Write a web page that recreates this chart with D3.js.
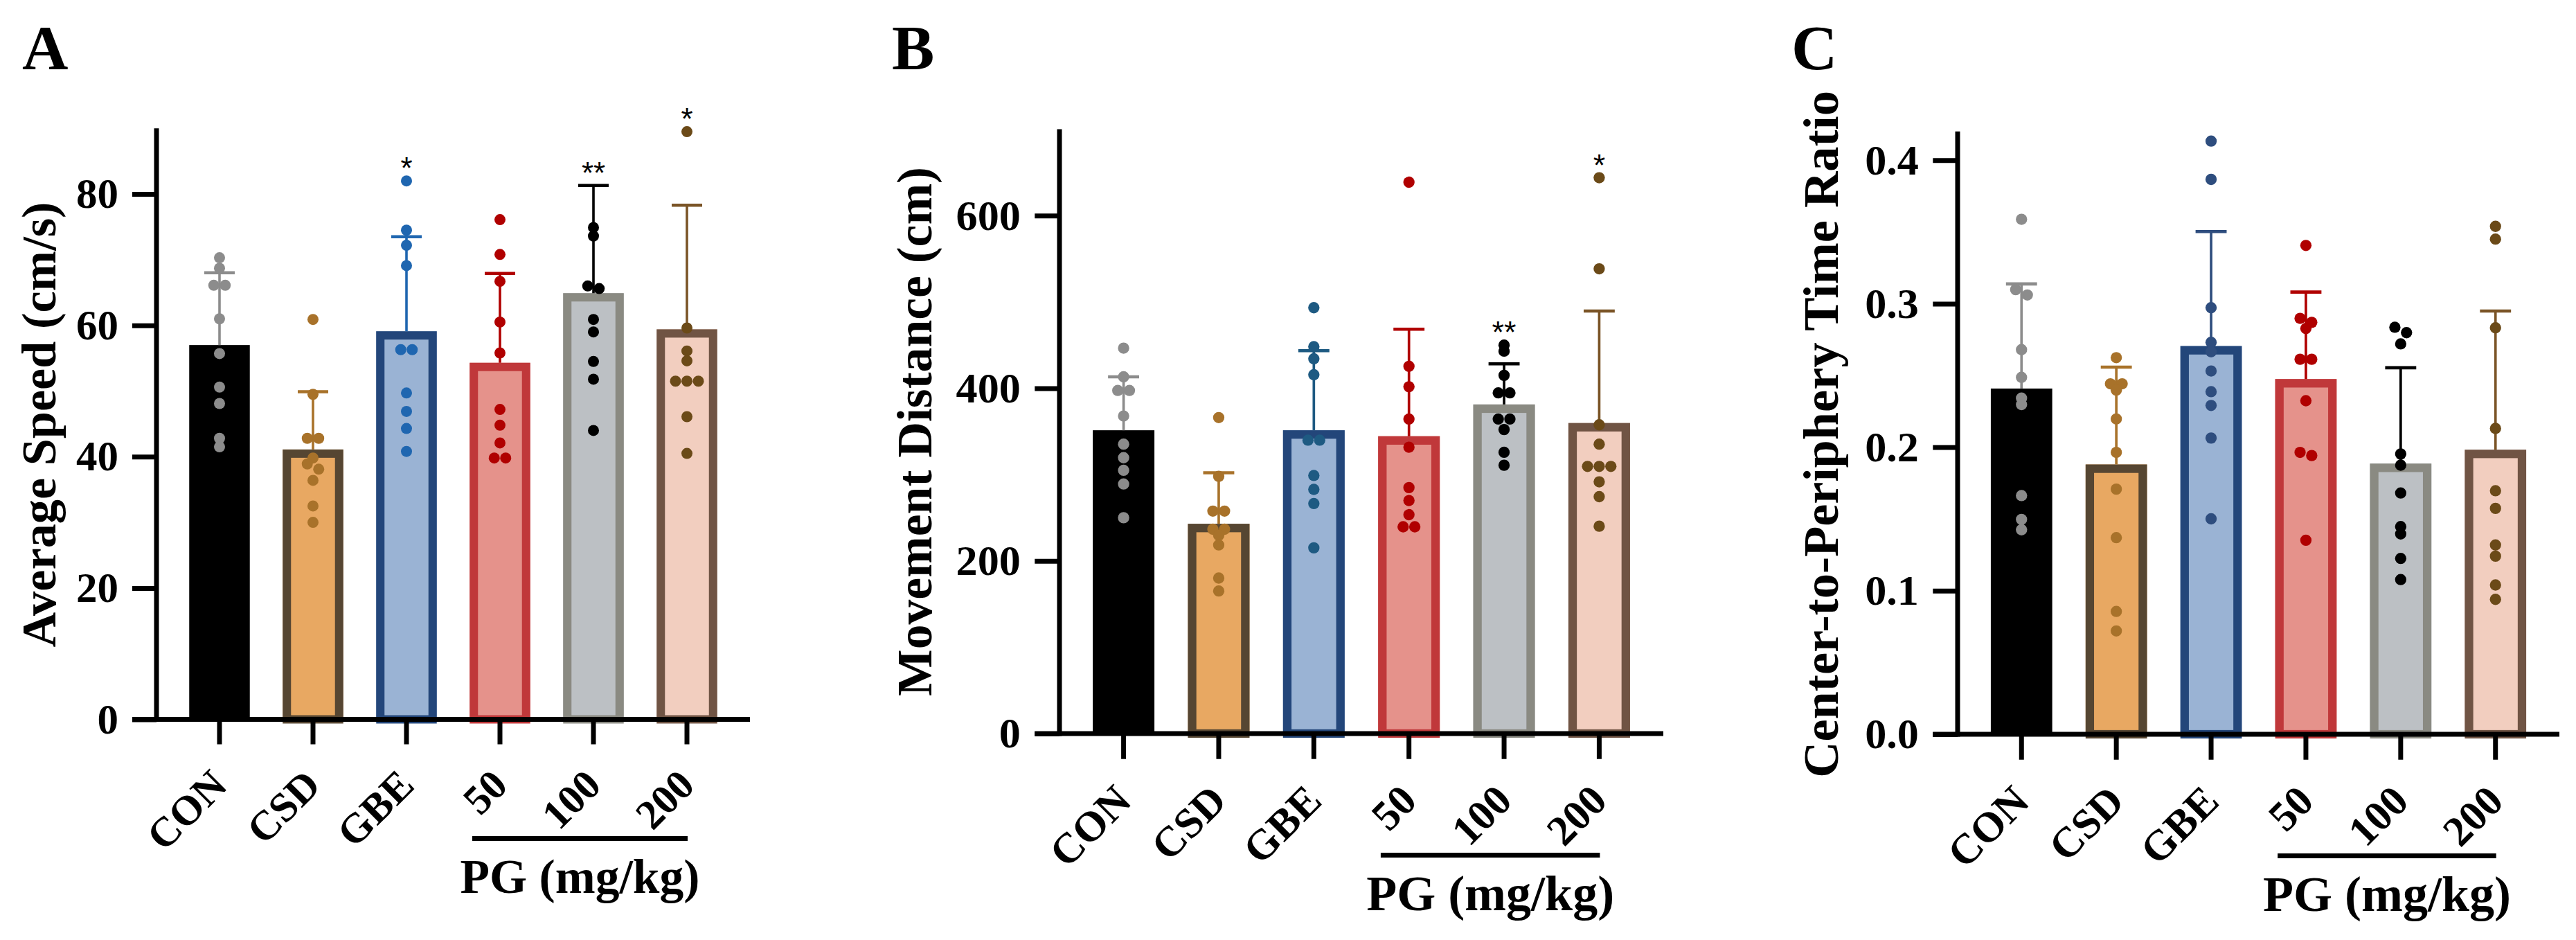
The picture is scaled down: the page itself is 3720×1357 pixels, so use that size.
<!DOCTYPE html>
<html><head><meta charset="utf-8">
<script src="https://cdn.jsdelivr.net/npm/d3@7"></script>
<style>
body{margin:0;background:#fff}
svg{display:block}
text{font-family:"Liberation Serif","Times New Roman",serif;font-weight:bold;fill:#000}
</style>
</head><body>
<svg id="chart" width="3720" height="1357"></svg>
<script>
// ---------------- DATA ----------------
const categories = ["CON", "CSD", "GBE", "50", "100", "200"];

// Panel A: Average Speed (cm/s)
const speedPoints = [
  [70.3, 68.7, 66.1, 66.1, 61.0, 55.7, 50.6, 48.1, 42.8, 41.5],
  [60.9, 49.5, 42.8, 42.8, 39.8, 38.9, 38.1, 36.4, 32.5, 30.0],
  [82.0, 74.5, 72.2, 69.1, 56.3, 56.3, 49.7, 46.9, 44.3, 40.8],
  [76.1, 70.8, 66.7, 60.5, 55.8, 47.2, 44.8, 42.1, 39.8, 39.8],
  [74.9, 73.6, 66.0, 65.6, 60.9, 59.0, 54.5, 51.8, 44.0],
  [89.5, 59.6, 56.1, 54.6, 51.5, 51.5, 51.5, 46.1, 40.5]
];
const speedMeans = [57.0, 41.1, 59.1, 54.3, 64.9, 59.4];
const speedSD = [11.0, 8.8, 14.4, 13.6, 16.4, 18.9];
const speedStars = ["", "", "*", "", "**", "*"];
const speedTicks = [0, 20, 40, 60, 80];

// Panel B: Movement Distance (cm)
const distPoints = [
  [446.4, 413.2, 397.4, 397.4, 367.8, 335.2, 319.5, 304.9, 289.1, 250.0],
  [366.0, 297.9, 257.7, 257.7, 236.7, 236.7, 229.7, 218.5, 180.1, 165.1],
  [493.2, 448.1, 434.1, 415.6, 339.8, 339.8, 298.9, 282.8, 266.4, 215.1],
  [638.6, 425.4, 401.7, 364.3, 331.7, 284.9, 269.9, 253.5, 239.5, 239.5],
  [449.9, 442.9, 414.9, 394.6, 394.6, 364.3, 364.3, 352.1, 325.8, 310.8],
  [643.8, 538.3, 357.6, 335.2, 309.4, 309.4, 309.4, 291.6, 274.4, 240.2]
];
const distMeans = [351.3, 243.0, 351.3, 344.4, 381.2, 359.7];
const distSD = [61.9, 59.1, 92.2, 124.0, 47.0, 129.7];
const distStars = ["", "", "", "", "**", "*"];
const distTicks = [0, 200, 400, 600];

// Panel C: Center-to-Periphery Time Ratio
const ratioPoints = [
  [0.3588, 0.3098, 0.3061, 0.2680, 0.2487, 0.2342, 0.2297, 0.1663, 0.1497, 0.1425],
  [0.2624, 0.2442, 0.2442, 0.2398, 0.2197, 0.1964, 0.1708, 0.1370, 0.0856, 0.0720],
  [0.4133, 0.3866, 0.2972, 0.2731, 0.2665, 0.2531, 0.2387, 0.2291, 0.2064, 0.1501],
  [0.3406, 0.2898, 0.2870, 0.2827, 0.2613, 0.2613, 0.2324, 0.1964, 0.1942, 0.1352],
  [0.2836, 0.2798, 0.2720, 0.1953, 0.1875, 0.1681, 0.1447, 0.1396, 0.1225, 0.1078],
  [0.3539, 0.3450, 0.2832, 0.2131, 0.1697, 0.1574, 0.1319, 0.1241, 0.1040, 0.0940]
];
const ratioMeans = [0.2409, 0.1880, 0.2705, 0.2475, 0.1886, 0.1983];
const ratioSD = [0.0729, 0.0678, 0.0798, 0.0606, 0.0668, 0.0966];
const ratioStars = ["", "", "", "", "", ""];
const ratioTicks = [0, 0.1, 0.2, 0.3, 0.4];

// Colours
const barFill   = ["#000000", "#e8a862", "#9ab3d4", "#e5928b", "#bcc0c4", "#f2cebf"];
const barStroke = [null,      "#564632", "#23467a", "#c0383a", "#8a8a82", "#705444"];
const dotColorA = ["#8c8c8c", "#a8722a", "#1f66b0", "#b00000", "#000000", "#6b4a18"];
const dotColorB = ["#8c8c8c", "#a8722a", "#1e5a82", "#b00000", "#000000", "#6b4a18"];
const dotColorC = ["#8c8c8c", "#a8722a", "#2e4d7e", "#b00000", "#000000", "#6b4a18"];
const errColorA = ["#8c8c8c", "#a8722a", "#1f66b0", "#b00000", "#000000", "#7a5426"];
const errColorB = ["#8c8c8c", "#a8722a", "#1e5a82", "#b00000", "#000000", "#7a5426"];
const errColorC = ["#8c8c8c", "#a8722a", "#2e4d7e", "#b00000", "#000000", "#7a5426"];

// ---------------- LAYOUT ----------------
const panels = [
  {letter: "A", letterX: 32, title: "Average Speed (cm/s)", titleX: 63, titleY: 613, titleLen: 643,
   points: speedPoints, means: speedMeans, sd: speedSD, stars: speedStars, ticks: speedTicks,
   fmt: d3.format("d"), ymax: 90, axisX: 226, xEnd: 1083, zeroY: 1038.5, top: 185.3, k: 1.0,
   dots: dotColorA, errs: errColorA, titleSize: 70, pgLen: 346},
  {letter: "B", letterX: 1288, title: "Movement Distance (cm)", titleX: 1328, titleY: 623, titleLen: 764,
   points: distPoints, means: distMeans, sd: distSD, stars: distStars, ticks: distTicks,
   fmt: d3.format("d"), ymax: 700, axisX: 1530, xEnd: 2402, zeroY: 1059, top: 186.5, k: 1.02,
   dots: dotColorB, errs: errColorB, titleSize: 72, pgLen: 358},
  {letter: "C", letterX: 2587, title: "Center-to-Periphery Time Ratio", titleX: 2637, titleY: 627, titleLen: 992,
   points: ratioPoints, means: ratioMeans, sd: ratioSD, stars: ratioStars, ticks: ratioTicks,
   fmt: d3.format(".1f"), ymax: 0.42, axisX: 2827, xEnd: 3696, zeroY: 1060, top: 189.8, k: 1.02,
   dots: dotColorC, errs: errColorC, titleSize: 72, pgLen: 358}
];

const svg = d3.select("#chart");
svg.append("rect").attr("width", 3720).attr("height", 1357).attr("fill", "#fff");

// scale a text's font so its rendered length matches the reference length
function fitText(sel, baseSize, target) {
  sel.style("font-size", baseSize + "px");
  const n = sel.node();
  let len = 0;
  try { len = n.getComputedTextLength(); } catch (e) { len = 0; }
  if (len > 0) {
    const s = baseSize * target / len;
    if (s > baseSize * 0.8 && s < baseSize * 1.35) sel.style("font-size", s + "px");
  }
}

panels.forEach(p => drawPanel(p));

function drawPanel(p) {
  const k = p.k;
  const g = svg.append("g");
  const x = d3.scaleBand().domain(categories).range([p.axisX, p.xEnd])
    .paddingInner(0.352).paddingOuter(0.35);
  const y = d3.scaleLinear().domain([0, p.ymax]).range([p.zeroY, p.top]);
  const bw = x.bandwidth();
  const sw = 12 * k;      // bar border
  const axW = 7;          // axis line width
  const tickLen = 35 * k;
  const r = 8 * k;

  // bars
  categories.forEach((c, i) => {
    const x0 = x(c), yt = y(p.means[i]), h = p.zeroY - yt;
    g.append("rect").attr("x", x0).attr("y", yt).attr("width", bw).attr("height", h)
      .attr("fill", barFill[i]);
    if (barStroke[i]) {
      g.append("rect").attr("x", x0 + sw / 2).attr("y", yt + sw / 2)
        .attr("width", bw - sw).attr("height", h - sw / 2)
        .attr("fill", "none").attr("stroke", barStroke[i]).attr("stroke-width", sw);
    }
  });

  // error bars (mean + SD)
  const capW = 44 * k;
  categories.forEach((c, i) => {
    const cx = x(c) + bw / 2;
    const yTop = y(p.means[i] + p.sd[i]);
    g.append("line").attr("x1", cx).attr("x2", cx).attr("y1", y(p.means[i])).attr("y2", yTop)
      .attr("stroke", p.errs[i]).attr("stroke-width", 3.6 * k);
    g.append("line").attr("x1", cx - capW / 2).attr("x2", cx + capW / 2).attr("y1", yTop).attr("y2", yTop)
      .attr("stroke", p.errs[i]).attr("stroke-width", 4.5 * k);
  });

  // scatter points (rows of near-equal values spread horizontally)
  const spread = 16.5 * k;
  categories.forEach((c, i) => {
    const cx = x(c) + bw / 2;
    const ys = p.points[i].map(v => y(v)).sort((a, b) => a - b);
    const rows = [];
    ys.forEach(py => {
      const last = rows[rows.length - 1];
      if (last && py - last[0] < 8.5) last.push(py); else rows.push([py]);
    });
    rows.forEach(row => {
      const n = row.length;
      row.forEach((py, j) => {
        g.append("circle").attr("cx", cx + (j - (n - 1) / 2) * spread).attr("cy", py)
          .attr("r", r).attr("fill", p.dots[i]);
      });
    });
  });

  // significance stars
  categories.forEach((c, i) => {
    if (!p.stars[i]) return;
    const cx = x(c) + bw / 2;
    const topY = Math.min(y(d3.max(p.points[i])), y(p.means[i] + p.sd[i]));
    const fs = 44 * k;
    g.append("text").attr("x", cx).attr("y", topY - 28 * k + 0.57 * fs)
      .attr("text-anchor", "middle")
      .style("font-family", "'Liberation Sans', Arial, sans-serif").style("font-weight", "normal")
      .style("font-size", fs + "px").text(p.stars[i]);
  });

  // y axis
  const yAxis = d3.axisLeft(y).tickValues(p.ticks).tickFormat(p.fmt)
    .tickSize(tickLen).tickSizeOuter(0).tickPadding(20 * k);
  const ya = g.append("g").attr("transform", `translate(${p.axisX},0)`).call(yAxis);
  ya.select(".domain").remove();
  ya.selectAll(".tick line").attr("stroke", "#000").attr("stroke-width", axW);
  ya.selectAll(".tick text").style("font-size", (61 * k) + "px")
    .style("font-family", "'Liberation Serif','Times New Roman',serif").style("font-weight", "bold")
    .attr("fill", "#000");
  g.append("line").attr("x1", p.axisX).attr("x2", p.axisX)
    .attr("y1", y(p.ymax)).attr("y2", p.zeroY + axW / 2)
    .attr("stroke", "#000").attr("stroke-width", axW);

  // x axis
  const xAxis = d3.axisBottom(x).tickSize(36 * k).tickSizeOuter(0).tickFormat("");
  const xa = g.append("g").attr("transform", `translate(0,${p.zeroY})`).call(xAxis);
  xa.select(".domain").remove();
  xa.selectAll(".tick line").attr("stroke", "#000").attr("stroke-width", axW);
  g.append("line").attr("x1", p.axisX - tickLen).attr("x2", p.xEnd)
    .attr("y1", p.zeroY).attr("y2", p.zeroY)
    .attr("stroke", "#000").attr("stroke-width", axW);

  // rotated category labels
  categories.forEach(c => {
    const cx = x(c) + bw / 2;
    g.append("text")
      .attr("transform", `translate(${cx},${p.zeroY + 84 * k}) rotate(-45)`)
      .attr("text-anchor", "end").attr("dy", "0.33em")
      .style("font-size", (60 * k) + "px").text(c);
  });

  // PG bracket + label
  const x50 = x("50") + bw / 2, x200 = x("200") + bw / 2;
  const lx1 = x50 - 40 * k, lx2 = x200 + 1;
  g.append("line").attr("x1", lx1).attr("x2", lx2)
    .attr("y1", p.zeroY + 172 * k).attr("y2", p.zeroY + 172 * k)
    .attr("stroke", "#000").attr("stroke-width", 7);
  const pg = g.append("text").attr("x", (lx1 + lx2) / 2).attr("y", p.zeroY + 250 * k)
    .attr("text-anchor", "middle").text("PG (mg/kg)");
  fitText(pg, p.titleSize, p.pgLen);

  // y title
  const t = g.append("text").attr("transform", `translate(${p.titleX},${p.titleY}) rotate(-90)`)
    .attr("text-anchor", "middle").attr("dy", "0.24em").text(p.title);
  fitText(t, p.titleSize, p.titleLen);

  // panel letter
  g.append("text").attr("x", p.letterX).attr("y", 100).style("font-size", "92px").text(p.letter);
}
</script>
</body></html>
